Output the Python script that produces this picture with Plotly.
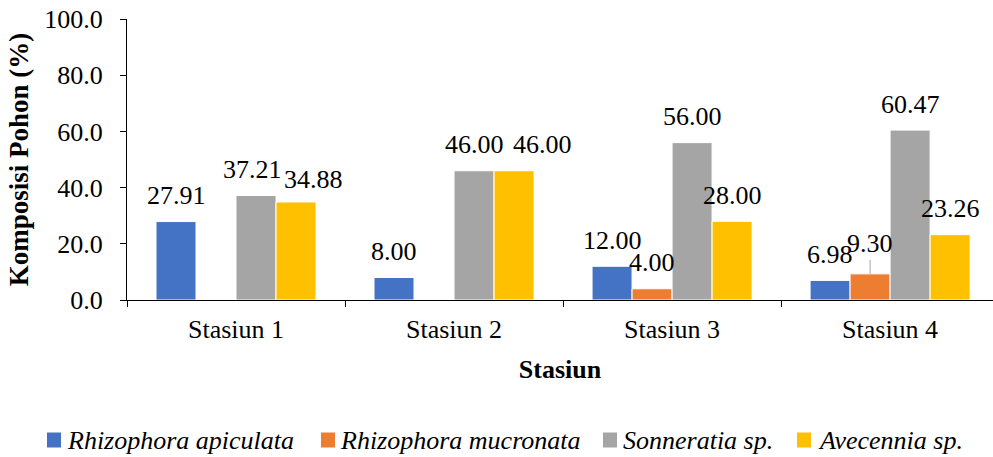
import plotly.graph_objects as go

# Tree composition (%) per station and species
stations = ["Stasiun 1", "Stasiun 2", "Stasiun 3", "Stasiun 4"]
species = ["Rhizophora apiculata", "Rhizophora mucronata", "Sonneratia sp.", "Avecennia sp."]
r_apiculata = [27.91, 8.00, 12.00, 6.98]
r_mucronata = [0.00, 0.00, 4.00, 9.30]
sonneratia = [37.21, 46.00, 56.00, 60.47]
avecennia = [34.88, 46.00, 28.00, 23.26]
y_ticks = [0, 20, 40, 60, 80, 100]

series = [r_apiculata, r_mucronata, sonneratia, avecennia]
colors = ["#4472C4", "#ED7D31", "#A5A5A5", "#FFC000"]

FONT = "Liberation Serif, Times New Roman, serif"
W, H = 993, 457
L, R, T, B = 127, 0, 19, 157
PW, PH = W - L - R, H - T - B


def paper_x(px):
    return (px - L) / PW


def paper_y(py):
    return (H - B - py) / PH


fig = go.Figure()
for name, vals, col in zip(species, series, colors):
    fig.add_trace(go.Bar(
        x=stations, y=vals, name=name, showlegend=False,
        marker=dict(color=col, line=dict(color="white", width=1)),
    ))

# value labels: pixel nudges (dx, dy) to keep neighbouring labels apart
BAR_PX = 40
nudge = {
    (0, 2): (-4, 0), (0, 3): (17, 4),
    (1, 3): (28, 0),
}
for j, vals in enumerate(series):
    for i, v in enumerate(vals):
        if v == 0:
            continue
        dx, dy = nudge.get((i, j), (0, 0))
        xs = (j - 1.5) * BAR_PX
        if (i, j) == (3, 1):
            # label lifted with a short leader line
            fig.add_annotation(
                x=stations[i], y=v, text=f"{v:.2f}", xshift=xs,
                showarrow=True, ax=0, ay=-30, arrowhead=0,
                arrowwidth=1, arrowcolor="#A5A5A5", standoff=0,
                font=dict(family=FONT, size=26, color="black"),
            )
        else:
            fig.add_annotation(
                x=stations[i], y=v, text=f"{v:.2f}",
                xshift=xs + dx, yshift=26 - dy, yanchor="middle",
                showarrow=False,
                font=dict(family=FONT, size=26, color="black"),
            )

# legend row below the axis title: swatch left edge and text start (px)
legend_swatch_x = [47, 321, 603, 797]
legend_text_x = [67, 340, 623, 818]
LEG_Y = 440
for name, col, sx, tx in zip(species, colors, legend_swatch_x, legend_text_x):
    fig.add_shape(
        type="rect", xref="paper", yref="paper",
        x0=paper_x(sx), x1=paper_x(sx + 14),
        y0=paper_y(LEG_Y - 7.5), y1=paper_y(LEG_Y + 7.5),
        fillcolor=col, line=dict(width=0),
    )
    fig.add_annotation(
        xref="paper", yref="paper", x=paper_x(tx), y=paper_y(LEG_Y),
        xanchor="left", yanchor="middle", showarrow=False,
        text=f"<i>{name}</i>", xshift=-2,
        font=dict(family=FONT, size=26, color="black"),
    )

fig.update_layout(
    width=W, height=H,
    margin=dict(l=L, r=R, t=T, b=B),
    paper_bgcolor="white", plot_bgcolor="white",
    barmode="group", bargap=0.266, bargroupgap=0,
    font=dict(family=FONT, size=26, color="black"),
    showlegend=False,
)
fig.update_xaxes(
    range=[-0.5, 3.472],
    showline=True, linecolor="black", linewidth=1,
    ticks="outside", tickson="boundaries", ticklen=6, tickcolor="black",
    tickfont=dict(family=FONT, size=26), ticklabelstandoff=6,
    title=dict(text="<b>Stasiun</b>", font=dict(family=FONT, size=26), standoff=16),
    showgrid=False, zeroline=False,
)
fig.update_yaxes(
    range=[0, 100], tickvals=y_ticks, tickformat=".1f",
    showline=True, linecolor="black", linewidth=1,
    ticks="outside", ticklen=6, tickcolor="black",
    tickfont=dict(family=FONT, size=26), ticklabelstandoff=12,
    title=dict(text="<b>Komposisi Pohon (%)</b>", font=dict(family=FONT, size=27), standoff=7),
    showgrid=False, zeroline=False,
)

fig.write_html("out.html")
